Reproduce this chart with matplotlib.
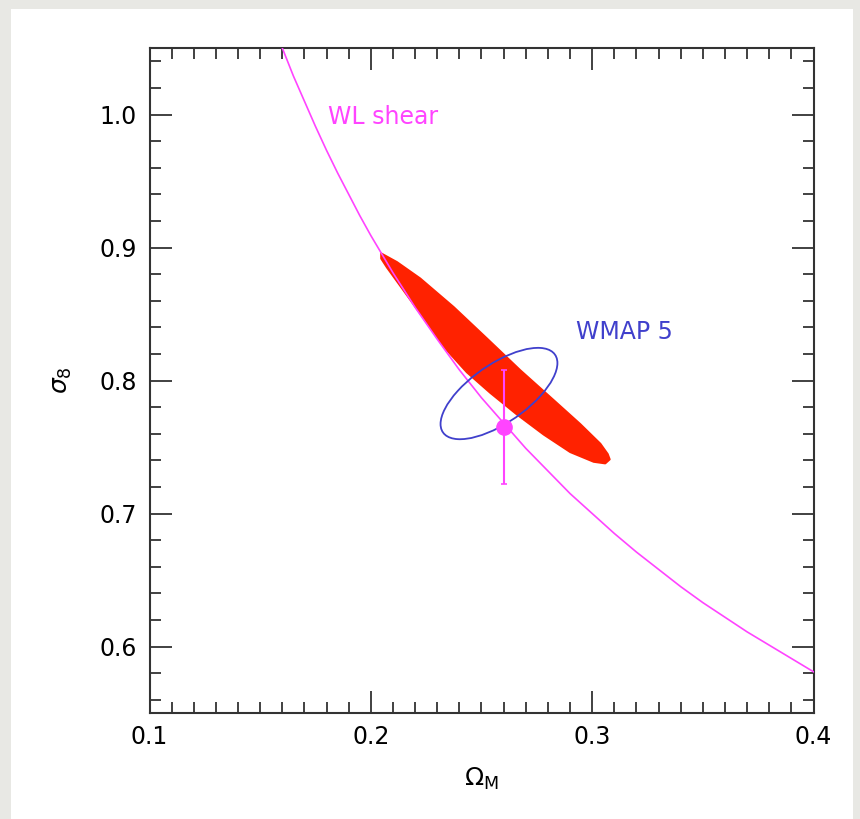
import matplotlib
matplotlib.use('Agg')
import matplotlib.pyplot as plt
from matplotlib.patches import Ellipse, Rectangle, Polygon
from matplotlib.transforms import Affine2D
from matplotlib.ticker import MultipleLocator

# WL shear constraint
wl_omega = [0.160, 0.165, 0.170, 0.175, 0.180, 0.185, 0.190, 0.195,
            0.20, 0.21, 0.22, 0.23, 0.24, 0.25, 0.26, 0.27, 0.28, 0.29,
            0.30, 0.31, 0.32, 0.33, 0.34, 0.35, 0.36, 0.37, 0.38, 0.39,
            0.40]
wl_sigma8 = [1.050, 1.029, 1.010, 0.991, 0.973, 0.956, 0.940, 0.924,
             0.909, 0.881, 0.855, 0.831, 0.808, 0.787, 0.768, 0.749,
             0.732, 0.715, 0.700, 0.685, 0.671, 0.658, 0.645, 0.633,
             0.622, 0.611, 0.601, 0.591, 0.581]

# measured point with error bar
point_omega = 0.26
point_sigma8 = 0.765
point_err = 0.043

# red contour outline (upper edge, then lower edge back)
red_omega = [0.2047, 0.2118, 0.2223, 0.2374, 0.2525, 0.2675, 0.2826,
             0.2946, 0.3037, 0.3070, 0.3079, 0.3059, 0.3007, 0.2901,
             0.2781, 0.2660, 0.2540, 0.2434, 0.2329, 0.2223, 0.2133,
             0.2073, 0.2047]
red_sigma8 = [0.8955, 0.8890, 0.8767, 0.8552, 0.8315, 0.8077, 0.7852,
              0.7672, 0.7524, 0.7447, 0.7407, 0.7377, 0.7389, 0.7462,
              0.7594, 0.7745, 0.7907, 0.8062, 0.8255, 0.8505, 0.8712,
              0.8850, 0.8917]

# WMAP 5 ellipse: centre, conjugate semi-axis vectors
wmap_centre = (0.2579, 0.7902)
wmap_u = (0.0264, 0.0229)
wmap_v = (0.0, 0.0256)

xlim = (0.1, 0.4)
ylim = (0.55, 1.05)
xticks = [0.1, 0.2, 0.3, 0.4]
yticks = [0.6, 0.7, 0.8, 0.9, 1.0]

MAGENTA = '#ff44ff'
RED = '#ff2200'
BLUE = '#4040cc'

text_font = ['DejaVu Sans']


fig = plt.figure(figsize=(8.6, 8.19), dpi=100)
fig.patch.set_facecolor('#e8e8e4')
fig.patches.append(Rectangle((11 / 860, 0), 842 / 860, 1 - 9 / 819,
                             transform=fig.transFigure, facecolor='white',
                             edgecolor='none', zorder=-10))

ax = fig.add_axes([149.5 / 860, 1 - 713 / 819, 664 / 860, 665 / 819])
ax.set_xlim(*xlim)
ax.set_ylim(*ylim)

ax.add_patch(Polygon(list(zip(red_omega, red_sigma8)), closed=True,
                     facecolor=RED, edgecolor=RED, lw=1.5,
                     joinstyle='round', zorder=2))
ax.plot(wl_omega, wl_sigma8, color=MAGENTA, lw=1.2, zorder=3)

# unit circle mapped onto data space by the conjugate axes
tr = Affine2D.from_values(wmap_u[0], wmap_u[1], wmap_v[0], wmap_v[1],
                          wmap_centre[0], wmap_centre[1])
ax.add_patch(Ellipse((0, 0), 2, 2, transform=tr + ax.transData,
                     facecolor='none', edgecolor=BLUE, lw=1.3, zorder=4))

ax.errorbar([point_omega], [point_sigma8], yerr=[point_err],
            fmt='o', color=MAGENTA, ms=11, elinewidth=1.5,
            capsize=2.5, capthick=1.2, zorder=5)

ax.text(0.1805, 0.998, 'WL shear', color=MAGENTA, fontsize=17,
        family=text_font, va='center', ha='left')
ax.text(0.2925, 0.8365, 'WMAP 5', color=BLUE, fontsize=17,
        family=text_font, va='center', ha='left')

ax.set_xticks(xticks)
ax.set_yticks(yticks)
ax.xaxis.set_minor_locator(MultipleLocator(0.01))
ax.yaxis.set_minor_locator(MultipleLocator(0.02))
ax.tick_params(which='both', direction='in', top=True, right=True,
               color='#333333', width=1.3, labelsize=17, pad=9)
ax.tick_params(which='major', length=16)
ax.tick_params(which='minor', length=8)
ax.set_xticklabels(['0.1', '0.2', '0.3', '0.4'])
ax.set_yticklabels(['0.6', '0.7', '0.8', '0.9', '1.0'])
for s in ax.spines.values():
    s.set_color('#333333')
    s.set_linewidth(1.5)

ax.set_xlabel(r'$\Omega_\mathrm{M}$', fontsize=18, labelpad=12)
ax.set_ylabel(r'$\sigma_8$', fontsize=18, labelpad=18)

fig.savefig('out.png', dpi=100, facecolor=fig.get_facecolor())
